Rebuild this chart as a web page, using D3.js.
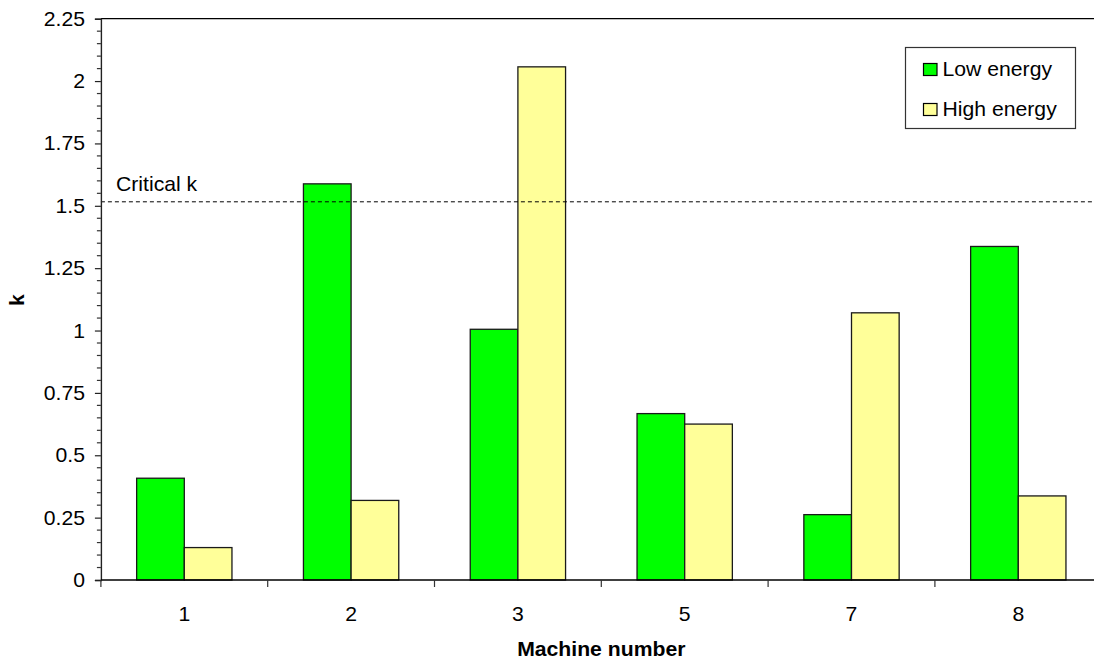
<!DOCTYPE html>
<html><head><meta charset="utf-8">
<script src="https://cdn.jsdelivr.net/npm/d3@7"></script>
<style>
body{margin:0;background:#fff;}
text{font-family:"Liberation Sans",Arial,sans-serif;fill:#000;}
</style></head>
<body><svg id="c" width="1094" height="664"></svg>
<script>
const machines = ["1","2","3","5","7","8"];
const lowEnergy = [0.408, 1.588, 1.005, 0.667, 0.262, 1.337];
const highEnergy = [0.130, 0.319, 2.057, 0.625, 1.071, 0.337];
const seriesNames = ["Low energy","High energy"];
const seriesColors = ["#00FF00","#FFFF99"];
const yTicks = [0,0.25,0.5,0.75,1,1.25,1.5,1.75,2,2.25];
const yTickLabels = ["0","0.25","0.5","0.75","1","1.25","1.5","1.75","2","2.25"];
const criticalK = 1.516;

const svg = d3.select("#c");
const L = 100.9, R = 1101.7, T = 18.7, B = 580;
const FS = 20, SX = 1.06;

const x0 = d3.scaleBand().domain(machines).range([L, R]).padding(0);
const x1 = d3.scaleBand().domain(seriesNames).range([0, x0.bandwidth()]).paddingInner(0).paddingOuter(0.75);
const y = d3.scaleLinear().domain([0, 2.25]).range([B, T]);

function txt(g, s, x, yy, anchor, opts={}) {
  const t = g.append("text")
    .attr("transform", `translate(${x},${yy}) ${opts.rot?`rotate(${opts.rot})`:""} scale(${SX},1)`)
    .attr("text-anchor", anchor)
    .attr("font-size", opts.fs || FS)
    .text(s);
  if (opts.bold) t.attr("font-weight", "bold");
  return t;
}

// top border
svg.append("line").attr("x1", L).attr("x2", 1094).attr("y1", T).attr("y2", T)
  .attr("stroke", "#000").attr("stroke-width", 1.2);

// bars
const data = machines.map((m, i) => ({m, vals: [lowEnergy[i], highEnergy[i]]}));
const groups = svg.append("g").selectAll("g").data(data).join("g")
  .attr("transform", d => `translate(${x0(d.m)},0)`);
groups.selectAll("rect").data(d => d.vals.map((v, j) => ({v, j})))
  .join("rect")
  .attr("x", d => x1(seriesNames[d.j]))
  .attr("width", x1.bandwidth())
  .attr("y", d => y(d.v))
  .attr("height", d => B - y(d.v))
  .attr("fill", d => seriesColors[d.j])
  .attr("stroke", "#1a1a1a").attr("stroke-width", 1.3);

// critical line
svg.append("line").attr("x1", L).attr("x2", 1094).attr("y1", y(criticalK)).attr("y2", y(criticalK))
  .attr("stroke", "#000").attr("stroke-width", 1).attr("stroke-dasharray", "4,3");
txt(svg, "Critical k", 116, 191, "start");

// y axis
const yAxis = d3.axisLeft(y).tickValues(yTicks).tickFormat((d, i) => yTickLabels[i]).tickSize(6).tickPadding(10);
const ya = svg.append("g").attr("transform", `translate(${L},0)`).call(yAxis);
ya.selectAll("text").remove();
ya.select(".domain").attr("stroke", "#222").attr("stroke-width", 1.4);
ya.selectAll(".tick line").attr("stroke", "#222").attr("stroke-width", 1.2);
const minor = d3.range(0, 2.2501, 0.05).filter(v => Math.abs(v / 0.25 - Math.round(v / 0.25)) > 1e-6);
svg.append("g").selectAll("line").data(minor).join("line")
  .attr("x1", L - 4).attr("x2", L).attr("y1", d => y(d)).attr("y2", d => y(d))
  .attr("stroke", "#333").attr("stroke-width", 1.2);
yTicks.forEach((v, i) => txt(svg, yTickLabels[i], 85, y(v) + 7, "end"));

// x axis
svg.append("line").attr("x1", L).attr("x2", 1094).attr("y1", B).attr("y2", B)
  .attr("stroke", "#000").attr("stroke-width", 1.3);
const bounds = machines.map(m => x0(m)).concat([x0(machines[machines.length - 1]) + x0.bandwidth()]);
svg.append("g").selectAll("line").data(bounds.filter(b => b < 1094)).join("line")
  .attr("x1", d => d).attr("x2", d => d).attr("y1", B).attr("y2", B + 7)
  .attr("stroke", "#333").attr("stroke-width", 1.2);
machines.forEach(m => txt(svg, m, x0(m) + x0.bandwidth() / 2, 620.5, "middle"));

// axis titles
txt(svg, "Machine number", (x0(machines[0]) + x0(machines[5]) + x0.bandwidth()) / 2, 656, "middle", {bold: true});
txt(svg, "k", 24, 300, "middle", {bold: true, rot: -90});

// legend
const lg = svg.append("g");
lg.append("rect").attr("x", 905.5).attr("y", 47.5).attr("width", 170).attr("height", 81)
  .attr("fill", "#fff").attr("stroke", "#333").attr("stroke-width", 1.2);
seriesNames.forEach((s, i) => {
  const yy = 63.5 + i * 40;
  lg.append("rect").attr("x", 923.5).attr("y", yy).attr("width", 13.5).attr("height", 12)
    .attr("fill", seriesColors[i]).attr("stroke", "#000").attr("stroke-width", 1.2);
  txt(lg, s, 942.5, yy + 12.5, "start");
});
</script></body></html>
